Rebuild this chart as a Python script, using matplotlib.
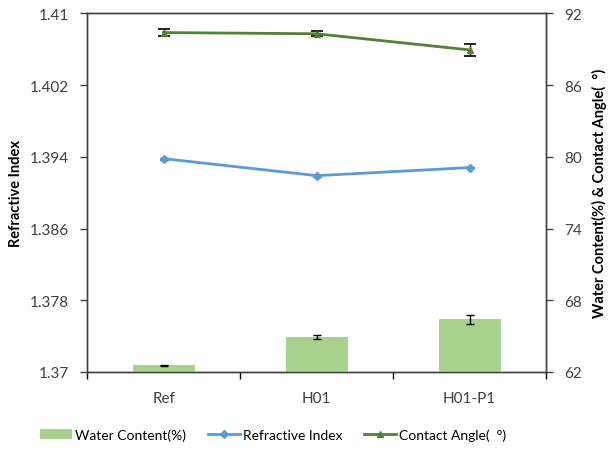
import numpy as np
import matplotlib.pyplot as plt
from matplotlib.ticker import FixedLocator, NullFormatter

plt.rcParams['font.family'] = ['Lato', 'DejaVu Sans']

samples = ['Ref', 'H01', 'H01-P1']
water_content = [62.55, 64.9, 66.4]
water_err = [0.05, 0.15, 0.35]
refractive_index = [1.3938, 1.3919, 1.3928]
refractive_err = [0.0001, 0.0001, 0.0001]
contact_angle = [90.4, 90.3, 88.95]
contact_err = [0.3, 0.2, 0.5]

left_ticks = [1.37, 1.378, 1.386, 1.394, 1.402, 1.41]
left_labels = ['1.37', '1.378', '1.386', '1.394', '1.402', '1.41']
right_ticks = [62, 68, 74, 80, 86, 92]

bar_color = '#A9D18E'
blue = '#5B9BD5'
green = '#548235'
ca_label = 'Contact Angle(  \u00b0)'

fig = plt.figure(figsize=(6.13, 4.52), dpi=100)
ax = fig.add_axes([0.142, 0.175, 0.749, 0.793])
ax2 = ax.twinx()

x = np.arange(len(samples))

bars = ax2.bar(x, np.array(water_content) - 62, bottom=62, width=0.405,
               color=bar_color, zorder=1)
ax2.errorbar(x, water_content, yerr=water_err, fmt='none', ecolor='black',
             elinewidth=1, capsize=3, capthick=1, zorder=2)

ri_line, = ax.plot(x, refractive_index, color=blue, lw=2, marker='D', ms=4,
                   zorder=3)
ax.errorbar(x, refractive_index, yerr=refractive_err, fmt='none', ecolor='black',
            elinewidth=1, capsize=3, capthick=1, zorder=2)

ax2.errorbar(x, contact_angle, yerr=contact_err, fmt='none', ecolor='black',
             elinewidth=1, capsize=4, capthick=1.2, zorder=3)
ca_line, = ax2.plot(x, contact_angle, color=green, lw=2, marker='^', ms=5,
                    zorder=4)

ax.set_xlim(-0.5, 2.5)
ax.set_ylim(1.37, 1.41)
ax2.set_ylim(62, 92)

ax.set_yticks(left_ticks)
ax.set_yticklabels(left_labels)
ax2.set_yticks(right_ticks)

ax.set_xticks(x)
ax.set_xticklabels(samples)
ax.tick_params(axis='x', which='major', length=0, pad=14)
ax.xaxis.set_minor_locator(FixedLocator([-0.5, 0.5, 1.5, 2.5]))
ax.xaxis.set_minor_formatter(NullFormatter())
ax.tick_params(axis='x', which='minor', length=5, width=1, direction='out')

for a in (ax, ax2):
    a.tick_params(axis='y', length=5, width=1, direction='out',
                  labelsize=11, colors='#404040')
    for s in a.spines.values():
        s.set_color('#404040')
        s.set_linewidth(1)
ax.tick_params(axis='x', labelsize=11, colors='#404040')
ax.tick_params(axis='y', pad=8)
ax2.tick_params(axis='y', pad=8)

ax.set_ylabel('Refractive Index', fontsize=10.5, fontweight='bold')
ax.yaxis.set_label_coords(-0.14, 0.5)
ax2.set_ylabel('Water Content(%) & ' + ca_label, fontsize=10.5,
               fontweight='bold')
ax2.yaxis.set_label_coords(1.10, 0.5)

fig.legend([bars, ri_line, ca_line],
           ['Water Content(%)', 'Refractive Index', ca_label],
           loc='lower left', bbox_to_anchor=(0.045, -0.005), ncol=3, frameon=False,
           fontsize=10, handlelength=2.3, columnspacing=1.6, handletextpad=0.2)

fig.savefig('out.png', dpi=100)
